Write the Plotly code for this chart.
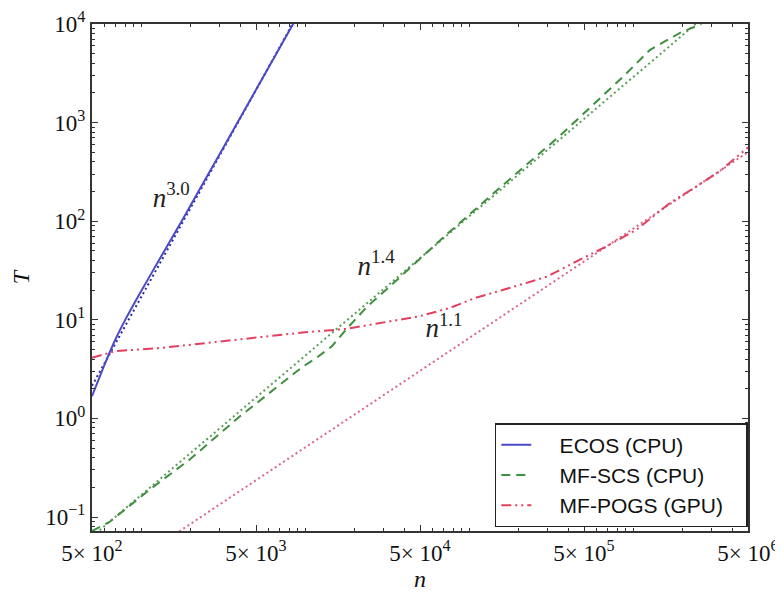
import plotly.graph_objects as go

# ---------------- data ----------------
ecos_n = [500, 600, 700, 800, 1000, 1300, 1760, 2500, 3880, 5500, 8800]
ecos_T = [1.68, 3.6, 6.5, 10.1, 19.7, 42, 100, 281, 1019, 2850, 11400]

scs_n = [500, 645, 1130, 1980, 3990, 6080, 7730, 9530, 11780, 14520, 17950, 23770,
         34200, 69000, 153800, 357000, 865000, 1265000, 1925000, 2600000]
scs_T = [0.072, 0.090, 0.191, 0.385, 1.05, 1.83, 2.48, 3.3, 4.15, 5.4, 8.16, 13.6,
         23.3, 68, 219, 737, 2920, 5480, 8140, 10000]

pogs_n = [500, 690, 1340, 3150, 4600, 9270, 17950, 32800, 50000, 76200, 109000,
          177000, 296000, 451000, 687000, 1047000, 1670000, 2430000, 3360000, 5000000]
pogs_T = [4.12, 4.8, 5.2, 6.07, 6.57, 7.38, 8.1, 9.68, 10.9, 13.2, 16.7,
          21.1, 27.3, 39.2, 55.7, 82.2, 153, 226, 321, 560]

# power-law fit lines (end points)
fit_ecos_n = [500, 8800]
fit_ecos_T = [2.14, 11700]
fit_scs_n = [500, 2600000]
fit_scs_T = [0.063, 11200]
fit_pogs_n = [1700, 5000000]
fit_pogs_T = [0.0713, 502]

label_text = ["<i>n</i><sup>3.0</sup>", "<i>n</i><sup>1.4</sup>", "<i>n</i><sup>1.1</sup>"]
label_n = [1520, 27000, 70000]
label_T = [165, 33.7, 7.8]

series_names = ["ECOS (CPU)", "MF-SCS (CPU)", "MF-POGS (GPU)"]

x_tickvals = [500, 5000, 50000, 500000, 5000000]
x_ticktext = ["5× 10<sup>2</sup>", "5× 10<sup>3</sup>", "5× 10<sup>4</sup>",
              "5× 10<sup>5</sup>", "5× 10<sup>6</sup>"]
y_tickvals = [0.1, 1, 10, 100, 1000, 10000]
y_ticktext = ["10<sup>−1</sup>", "10<sup>0</sup>", "10<sup>1</sup>",
              "10<sup>2</sup>", "10<sup>3</sup>", "10<sup>4</sup>"]

BLUE = "#4a4ac8"
GREEN = "#3f8f3f"
RED = "#e2405e"
AX = "#333333"
SERIF = "Liberation Serif, Times New Roman, serif"
SANS = "Liberation Sans, Arial, sans-serif"
PAD = "\u00a0" * 4
TAIL = "\u00a0" * 3

minor_x = [m * 10 ** k for k in range(2, 7) for m in range(1, 10) if m != 5]
minor_y = [m * 10 ** k for k in range(-2, 5) for m in range(2, 10)]

fig = go.Figure()

# fit lines (dotted)
fig.add_trace(go.Scatter(x=fit_ecos_n, y=fit_ecos_T, mode="lines", showlegend=False,
                         line=dict(color="#2a2a9a", width=2, dash="2px,3px")))
fig.add_trace(go.Scatter(x=fit_scs_n, y=fit_scs_T, mode="lines", showlegend=False,
                         line=dict(color="#5c9c5c", width=2, dash="2px,3px")))
fig.add_trace(go.Scatter(x=fit_pogs_n, y=fit_pogs_T, mode="lines", showlegend=False,
                         line=dict(color="#d8668a", width=2, dash="2px,3px")))

# data
fig.add_trace(go.Scatter(x=ecos_n, y=ecos_T, mode="lines", name=PAD + series_names[0] + TAIL,
                         line=dict(color=BLUE, width=2, shape="spline", smoothing=0.6)))
fig.add_trace(go.Scatter(x=scs_n, y=scs_T, mode="lines", name=PAD + series_names[1] + TAIL,
                         line=dict(color=GREEN, width=2, dash="9px,6px")))
fig.add_trace(go.Scatter(x=pogs_n, y=pogs_T, mode="lines", name=PAD + series_names[2] + TAIL,
                         line=dict(color=RED, width=2, dash="10px,4px,2px,4px,2px,4px")))

# labels
fig.add_trace(go.Scatter(x=label_n, y=label_T, mode="text", text=label_text,
                         showlegend=False, hoverinfo="skip",
                         textfont=dict(family=SERIF, size=27, color="#222")))

axis_common = dict(
    type="log", showgrid=False, zeroline=False, automargin=False,
    showline=True, linecolor=AX, linewidth=2, mirror="allticks",
    ticks="inside", ticklen=6, tickwidth=1.2, tickcolor=AX,
    tickfont=dict(family=SERIF, size=23, color="#111"),
    tickmode="array",
)

# page body has an 8px margin: figure is sized/offset to compensate
fig.update_layout(
    width=775, height=589,
    margin=dict(l=84, r=35, t=16, b=66),
    paper_bgcolor="white", plot_bgcolor="white",
    xaxis=dict(axis_common, range=[2.69897, 6.69897],
               tickvals=x_tickvals, ticktext=x_ticktext,
               minor=dict(tickmode="array", tickvals=minor_x, ticks="inside",
                          ticklen=3, tickwidth=1, tickcolor=AX),
               title=dict(text="<i>n</i>", font=dict(family=SERIF, size=24, color="#111"),
                          standoff=0)),
    yaxis=dict(axis_common, range=[-1.142, 4.0],
               tickvals=y_tickvals, ticktext=y_ticktext,
               minor=dict(tickmode="array", tickvals=minor_y, ticks="inside",
                          ticklen=3, tickwidth=1, tickcolor=AX),
               title=dict(text="<i>T</i>", font=dict(family=SERIF, size=24, color="#111"),
                          standoff=12)),
    legend=dict(x=0.614, y=0.213, xanchor="left", yanchor="top",
                bgcolor="white", bordercolor="#222", borderwidth=1.5,
                font=dict(family=SANS, size=21, color="#111"),
                itemwidth=30, tracegroupgap=0),
)

fig.write_html("out.html")
